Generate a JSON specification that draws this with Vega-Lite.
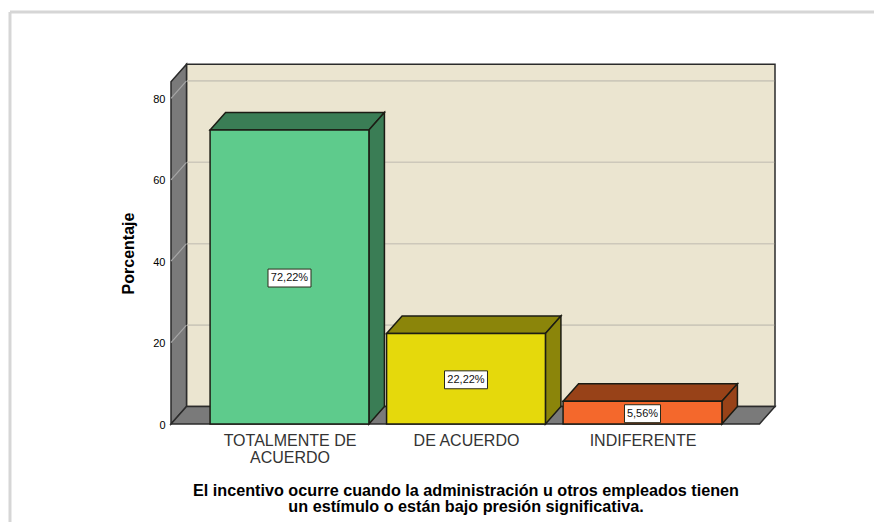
{
"$schema":"https://vega.github.io/schema/vega-lite/v6.json",
"width":604,"height":360,
"autosize":{"type":"none"},
"padding":{"left":171,"top":64,"right":99,"bottom":98},
"background":"white",
"config":{"view":{"stroke":null},"font":"Liberation Sans","axis":{"grid":false}},
"params":[{"name":"dx","value":0.0878},{"name":"dz","value":4.3},{"name":"hw","value":0.45},{"name":"xl","value":0.3286},{"name":"xr","value":3.663},{"name":"topw","value":84.1}],
"datasets":{
"respuestas":[
{"categoria":"TOTALMENTE DE ACUERDO","porcentaje":72.22,"etiqueta":"72,22%"},
{"categoria":"DE ACUERDO","porcentaje":22.22,"etiqueta":"22,22%"},
{"categoria":"INDIFERENTE","porcentaje":5.56,"etiqueta":"5,56%"}],
"marcas":[{"v":20},{"v":40},{"v":60},{"v":80}],
"uno":[{"parte":"escena"}]
},
"encoding":{
 "x":{"type":"quantitative","title":null,"scale":{"domain":[0.3286,3.7507],"nice":false,"zero":false},
   "axis":{"values":[1,2,3],"domain":false,"ticks":false,"title":null,"labelFont":"Liberation Sans","labelFontSize":16,"labelColor":"#333333","labelPadding":8,"labelLineHeight":17,"labelBaseline":"top","labelOverlap":false,"labelExpr":"datum.value==1?['TOTALMENTE DE','ACUERDO']:datum.value==2?'DE ACUERDO':'INDIFERENTE'"}},
 "y":{"type":"quantitative","title":"Porcentaje","scale":{"domain":[0,88.45],"nice":false,"zero":false},
   "axis":{"values":[0,20,40,60,80],"domain":false,"ticks":false,"labelFont":"Liberation Sans","labelFontSize":11,"labelColor":"#000000","labelPadding":6,"labelOffset":1,
    "title":"Porcentaje","titleFont":"Liberation Sans","titleFontSize":16,"titleFontWeight":"bold","titleColor":"#000000","titleX":-35,"titleY":189,"titleAnchor":"middle"}}
},
"resolve":{"scale":{"color":"independent"}},
"layer":[
{"data":{"name":"uno"},"mark":{"type":"rule","color":"#d6d6d6","strokeWidth":3},
 "encoding":{"x":{"datum":-0.5836,"type":"quantitative"},"x2":{"datum":4.32},"y":{"datum":101.2,"type":"quantitative"}}},
{"data":{"name":"uno"},"mark":{"type":"rule","color":"#d6d6d6","strokeWidth":3},
 "encoding":{"x":{"datum":-0.5836,"type":"quantitative"},"y":{"datum":101.2,"type":"quantitative"},"y2":{"datum":-25}}},
{"data":{"name":"uno"},"mark":{"type":"rect","fill":"#ebe5d0","stroke":"#2b2b2b","strokeWidth":1.5},
 "encoding":{"x":{"datum":0.4164,"type":"quantitative"},"x2":{"datum":3.7507},"y":{"datum":88.4,"type":"quantitative"},"y2":{"datum":4.3}}},
{"data":{"name":"uno"},
 "transform":[{"calculate":"[0,1]","as":"c"},{"flatten":["c"]},{"calculate":"xl+datum.c*dx","as":"x"},{"calculate":"datum.c*dz","as":"abajo"},{"calculate":"topw+datum.c*dz","as":"arriba"}],
 "mark":{"type":"area","fill":"#7a7a7a","stroke":"#2b2b2b","strokeWidth":1.5,"orient":"vertical"},
 "encoding":{"x":{"field":"x","type":"quantitative"},"y":{"field":"arriba","type":"quantitative"},"y2":{"field":"abajo"}}},
{"data":{"name":"uno"},
 "transform":[{"calculate":"[0,1,2,3]","as":"c"},{"flatten":["c"]},{"calculate":"[xl,xl+dx,xr,xr+dx][datum.c]","as":"x"},{"calculate":"[0,dz,dz,dz][datum.c]","as":"arriba"},{"calculate":"[0,0,0,dz][datum.c]","as":"abajo"}],
 "mark":{"type":"area","fill":"#7a7a7a","stroke":"#2b2b2b","strokeWidth":1.5,"orient":"vertical"},
 "encoding":{"x":{"field":"x","type":"quantitative"},"y":{"field":"arriba","type":"quantitative"},"y2":{"field":"abajo"}}},
{"data":{"name":"marcas"},"transform":[{"calculate":"datum.v+dz","as":"vf"}],
 "mark":{"type":"rule","color":"#cdc8ba","strokeWidth":1.6},
 "encoding":{"x":{"datum":0.4206,"type":"quantitative"},"x2":{"datum":3.746},"y":{"field":"vf","type":"quantitative"}}},
{"data":{"name":"marcas"},"transform":[{"calculate":"datum.v+dz","as":"vf"}],
 "mark":{"type":"rule","color":"#a6a6a6","strokeWidth":1.2},
 "encoding":{"x":{"datum":0.3286,"type":"quantitative"},"x2":{"datum":0.4164},"y":{"field":"v","type":"quantitative"},"y2":{"field":"vf"}}},
{"data":{"name":"respuestas"},
 "transform":[{"window":[{"op":"row_number","as":"i"}]},{"calculate":"[0,1,2,3]","as":"c"},{"flatten":["c"]},{"calculate":"[datum.i-hw,datum.i-hw+dx,datum.i+hw,datum.i+hw+dx][datum.c]","as":"x"},{"calculate":"datum.porcentaje+[0,dz,dz,dz][datum.c]","as":"arriba"},{"calculate":"datum.porcentaje+[0,0,0,dz][datum.c]","as":"abajo"}],
 "mark":{"type":"area","stroke":"#1c1c14","strokeWidth":1.5,"orient":"vertical"},
 "encoding":{"x":{"field":"x","type":"quantitative"},"y":{"field":"arriba","type":"quantitative"},"y2":{"field":"abajo"},
 "color":{"field":"categoria","type":"nominal","legend":null,"scale":{"domain":["TOTALMENTE DE ACUERDO","DE ACUERDO","INDIFERENTE"],"range":["#3a7d55","#8b850a","#984218"]}}}},
{"data":{"name":"respuestas"},
 "transform":[{"window":[{"op":"row_number","as":"i"}]},{"calculate":"[0,1]","as":"c"},{"flatten":["c"]},{"calculate":"datum.i+hw+datum.c*dx","as":"x"},{"calculate":"datum.porcentaje+datum.c*dz","as":"arriba"},{"calculate":"datum.c*dz","as":"abajo"}],
 "mark":{"type":"area","stroke":"#1c1c14","strokeWidth":1.5,"orient":"vertical"},
 "encoding":{"x":{"field":"x","type":"quantitative"},"y":{"field":"arriba","type":"quantitative"},"y2":{"field":"abajo"},
 "color":{"field":"categoria","type":"nominal","legend":null,"scale":{"domain":["TOTALMENTE DE ACUERDO","DE ACUERDO","INDIFERENTE"],"range":["#3a7d55","#8b850a","#984218"]}}}},
{"data":{"name":"respuestas"},
 "transform":[{"window":[{"op":"row_number","as":"i"}]},{"calculate":"datum.i-hw","as":"x0"},{"calculate":"datum.i+hw","as":"x1"}],
 "mark":{"type":"rect","stroke":"#1c1c14","strokeWidth":1.5},
 "encoding":{"x":{"field":"x0","type":"quantitative"},
  "x2":{"field":"x1"},
  "y":{"field":"porcentaje","type":"quantitative"},
  "y2":{"datum":0},
  "color":{"field":"categoria","type":"nominal","legend":null,"scale":{"domain":["TOTALMENTE DE ACUERDO","DE ACUERDO","INDIFERENTE"],"range":["#5ecb8c","#e5d90c","#f4682c"]}}}},
{"data":{"name":"respuestas"},
 "transform":[{"window":[{"op":"row_number","as":"i"}]},{"calculate":"length(datum.etiqueta)>5?0.1218:0.102","as":"m"},{"calculate":"datum.i-datum.m","as":"x0"},{"calculate":"datum.i+datum.m","as":"x1"},{"calculate":"datum.porcentaje/2-2.45","as":"y0"},{"calculate":"datum.porcentaje/2+1.95","as":"y1"}],
 "mark":{"type":"rect","fill":"white","stroke":"#2a2a1a","strokeWidth":1},
 "encoding":{"x":{"field":"x0","type":"quantitative"},"x2":{"field":"x1"},"y":{"field":"y0","type":"quantitative"},"y2":{"field":"y1"}}},
{"data":{"name":"respuestas"},
 "transform":[{"window":[{"op":"row_number","as":"i"}]},{"calculate":"datum.porcentaje/2-0.25","as":"ym"}],
 "mark":{"type":"text","font":"Liberation Sans","fontSize":11,"color":"#111111","baseline":"middle","align":"center"},
 "encoding":{"x":{"field":"i","type":"quantitative"},"y":{"field":"ym","type":"quantitative"},"text":{"field":"etiqueta"}}},
{"data":{"name":"uno"},
 "mark":{"type":"text","font":"Liberation Sans","fontSize":16.2,"fontWeight":"bold","color":"#000000","baseline":"middle","align":"center","lineHeight":16.5,"text":["El incentivo ocurre cuando la administración u otros empleados tienen","un estímulo o están bajo presión significativa."]},
 "encoding":{"x":{"datum":2.0,"type":"quantitative"},"y":{"datum":-16.4,"type":"quantitative"}}}
]
}
